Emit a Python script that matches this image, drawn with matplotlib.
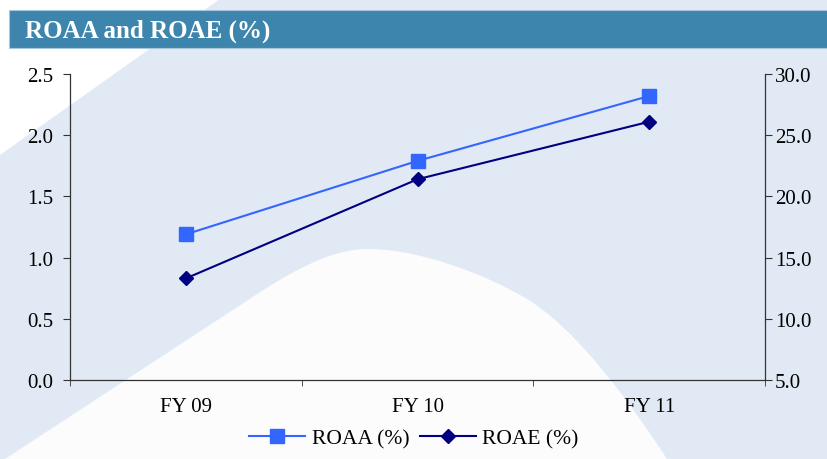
import matplotlib
import matplotlib.pyplot as plt
from matplotlib.patches import Rectangle, Polygon, PathPatch
from matplotlib.path import Path
from matplotlib.ticker import FixedLocator, FormatStrFormatter

matplotlib.rcParams.update({'font.family': 'Liberation Serif', 'font.size': 15})

years = ["FY 09", "FY 10", "FY 11"]
roaa = [1.19, 1.79, 2.32]
roae = [13.3, 21.4, 26.1]

bg_blue = "#e1e9f4"
bar_blue = "#3d85ad"
roaa_col = "#3366ff"
roae_col = "#000080"
axis_col = "#333333"

fig = plt.figure(figsize=(8.27, 4.6), dpi=100)
fig.patch.set_facecolor(bg_blue)

# decorative background drawn in pixel coordinates
bg = fig.add_axes([0, 0, 1, 1], zorder=-1)
bg.set_xlim(0, 827)
bg.set_ylim(460, 0)
bg.axis("off")
bg.add_patch(Polygon([(0, 0), (220, 0), (0, 156)], closed=True, color="white", lw=0))
verts = [(5, 460), (245, 303),
         (290, 273), (330, 250), (368, 250),
         (420, 250), (487, 276), (527, 300),
         (577, 330), (632, 406), (667, 460),
         (5, 460)]
codes = [Path.MOVETO, Path.LINETO,
         Path.CURVE4, Path.CURVE4, Path.CURVE4,
         Path.CURVE4, Path.CURVE4, Path.CURVE4,
         Path.CURVE4, Path.CURVE4, Path.CURVE4,
         Path.CLOSEPOLY]
bg.add_patch(PathPatch(Path(verts, codes), facecolor="#fcfcfd", lw=0))

# title bar
bg.add_patch(Rectangle((9, 11), 830, 38, facecolor=bar_blue, edgecolor="#a8c6dc", lw=0.8))
bg.text(25, 31, "ROAA and ROAE (%)", color="white", fontsize=18, fontweight="bold",
        va="center", ha="left")

ax = fig.add_axes([70 / 827, 1 - 381 / 460, 695 / 827, 306 / 460])
ax.patch.set_alpha(0)
x = list(range(len(years)))

l1, = ax.plot(x, roaa, color=roaa_col, lw=1.5, marker="s", markersize=9.5, label="ROAA (%)")
ax.set_xlim(-0.5, 2.5)
ax.set_ylim(0, 2.5)
ax.set_yticks([0, 0.5, 1.0, 1.5, 2.0, 2.5])
ax.yaxis.set_major_formatter(FormatStrFormatter("%.1f"))
ax.set_xticks(x)
ax.set_xticklabels(years)
ax.xaxis.set_minor_locator(FixedLocator([-0.5, 0.5, 1.5, 2.5]))
ax.tick_params(axis="x", which="major", length=0, pad=12)
ax.tick_params(axis="x", which="minor", length=4.5, direction="out", color=axis_col)
ax.tick_params(axis="y", length=5, direction="out", pad=7, color=axis_col)
ax.spines["top"].set_visible(False)
ax.spines["right"].set_visible(False)
for s in ["left", "bottom"]:
    ax.spines[s].set_color(axis_col)
    ax.spines[s].set_linewidth(0.9)

ax2 = ax.twinx()
ax2.patch.set_alpha(0)
l2, = ax2.plot(x, roae, color=roae_col, lw=1.5, marker="D", markersize=7, label="ROAE (%)")
ax2.set_ylim(5, 30)
ax2.set_yticks([5, 10, 15, 20, 25, 30])
ax2.yaxis.set_major_formatter(FormatStrFormatter("%.1f"))
ax2.tick_params(axis="y", length=5, direction="out", pad=2, color=axis_col)
for s in ["top", "left", "bottom"]:
    ax2.spines[s].set_visible(False)
ax2.spines["right"].set_color(axis_col)
ax2.spines["right"].set_linewidth(0.9)

fig.legend([l1, l2], ["ROAA (%)", "ROAE (%)"], loc="center", ncol=2,
           bbox_to_anchor=(414 / 827, 1 - 439 / 460), frameon=False,
           handlelength=2.6, handletextpad=0.3, columnspacing=0.5, fontsize=15.5)

plt.savefig("out.png", dpi=100, facecolor=fig.get_facecolor())
